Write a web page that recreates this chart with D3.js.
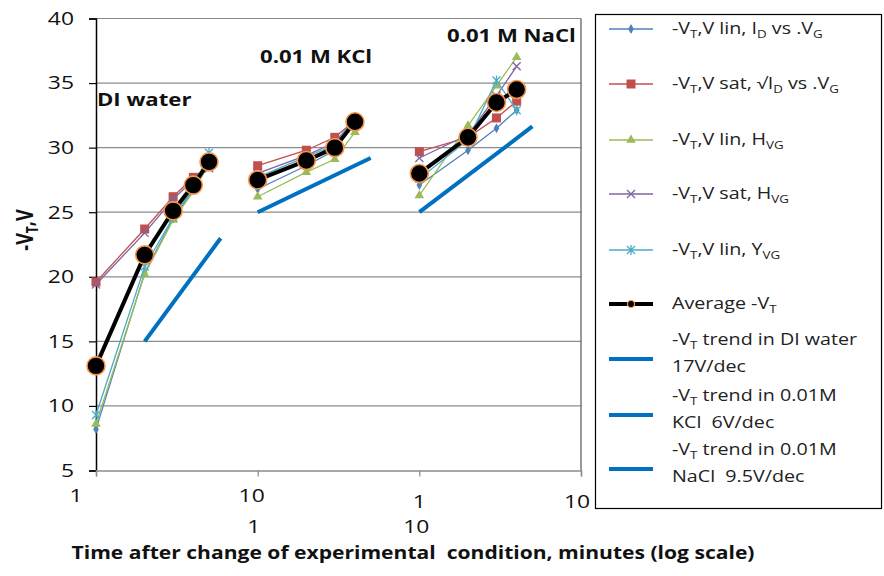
<!DOCTYPE html>
<html>
<head>
<meta charset="utf-8">
<script src="https://cdn.jsdelivr.net/npm/d3@7"></script>
<style>
  html, body { margin: 0; padding: 0; background: #fff; }
  svg { display: block; font-family: "Open Sans", sans-serif; }
</style>
</head>
<body>
<svg id="chart" width="884" height="576"></svg>
<script>
// Three experimental conditions, each on its own log-time decade
const panels = ["DI water", "0.01 M KCl", "0.01 M NaCl"];
const panelTimes = [[1, 2, 3, 4, 5], [1, 2, 3, 4], [1, 2, 3, 4]];

// -VT (V) per extraction method, one inner array per condition
const linID   = [[8.2, 20.3, 24.5, 26.7, 28.7], [26.8, 28.6, 29.8, 32.0], [27.1, 29.8, 31.5, 32.9]];
const satSqID = [[19.6, 23.7, 26.2, 27.7, 28.6], [28.6, 29.8, 30.8, 32.1], [29.7, 30.8, 32.3, 33.6]];
const linHVG  = [[8.6, 20.2, 24.4, 26.6, 28.8], [26.2, 28.1, 29.1, 31.2], [26.3, 31.7, 34.8, 37.0]];
const satHVG  = [[19.4, 23.4, 26.0, 27.5, 28.4], [28.0, 29.4, 30.4, 32.2], [29.2, 31.0, 34.0, 36.3]];
const linYVG  = [[9.3, 20.8, 24.6, 26.9, 29.6], [27.7, 29.3, 30.2, 32.3], [27.6, 30.6, 35.2, 32.9]];
const average = [[13.1, 21.7, 25.1, 27.1, 28.9], [27.5, 29.0, 30.0, 32.0], [28.0, 30.8, 33.5, 34.5]];

// Trend lines: start time, start value, end time, slope in V/decade
const trendStart = [2, 1, 1];
const trendStartV = [15, 25, 25];
const trendEnd = [5.9, 5, 5];
const trendSlope = [17, 6, 9.5];

// Axis ticks
const yTicks = [5, 10, 15, 20, 25, 30, 35, 40];
const xTickLabelsRow1 = ["1", "10", "1", "10"];
const xTickLabelsRow2 = ["", "1", "10", ""];

const svg = d3.select("#chart");
const plot = { left: 96, right: 581, top: 18.5, bottom: 470.5 };
const WIDE = 1.27; // horizontal widening applied to all lettering

// The three decades sit side by side on one log axis (1..1000)
const decade = [1, 10, 100];
const x = d3.scaleLog().domain([1, 1000]).range([plot.left, plot.right]);
const y = d3.scaleLinear().domain([5, 40]).range([plot.bottom, plot.top]);
const px = (p, t) => x(t * decade[p]);

// Text placed at an anchor and widened horizontally
function wideText(parent, ax, ay, sx = WIDE) {
  return parent.append("g").attr("transform", `translate(${ax},${ay}) scale(${sx},1)`)
    .append("text").attr("x", 0).attr("y", 0);
}

// Gridlines
svg.append("g").selectAll("line").data(yTicks.filter(v => v > 5)).join("line")
  .attr("x1", plot.left).attr("x2", plot.right)
  .attr("y1", d => y(d)).attr("y2", d => y(d))
  .attr("stroke", "#8c8c8c").attr("stroke-width", 1.2);

// Right border of plot area
svg.append("line").attr("x1", plot.right).attr("x2", plot.right)
  .attr("y1", plot.top).attr("y2", plot.bottom)
  .attr("stroke", "#555").attr("stroke-width", 1.2);

// Y axis
const yAxis = d3.axisLeft(y).tickValues(yTicks).tickSize(7).tickFormat("");
const gy = svg.append("g").attr("transform", `translate(${plot.left},0)`).call(yAxis);
gy.select(".domain").attr("stroke", "#000").attr("stroke-width", 1.5);
gy.selectAll(".tick line").attr("stroke", "#000").attr("stroke-width", 1.2);
const gyl = svg.append("g");
yTicks.forEach(v => {
  wideText(gyl, 74, y(v)).attr("dy", "0.35em").attr("text-anchor", "end")
    .attr("font-size", 18).attr("fill", "#111").text(v);
});

// X axis (ticks only; labels placed as two rows)
const xAxis = d3.axisBottom(x).tickValues([1, 10, 100, 1000]).tickSize(6).tickFormat("");
const gx = svg.append("g").attr("transform", `translate(0,${plot.bottom})`).call(xAxis);
gx.select(".domain").attr("stroke", "#8c8c8c").attr("stroke-width", 1.5);
gx.selectAll(".tick line").attr("stroke", "#8c8c8c").attr("stroke-width", 1.2);

const tickVals = [1, 10, 100, 1000];
const row1dx = [-20, -6, 0, -4];
const row1dy = [496, 496, 502, 502];
const gxl = svg.append("g");
xTickLabelsRow1.forEach((d, i) => {
  wideText(gxl, x(tickVals[i]) + row1dx[i], row1dy[i]).attr("dy", "0.35em")
    .attr("text-anchor", "middle").attr("font-size", 18).attr("fill", "#111").text(d);
});
xTickLabelsRow2.forEach((d, i) => {
  if (!d) return;
  wideText(gxl, x(tickVals[i]) - 5 + i, 527).attr("dy", "0.35em")
    .attr("text-anchor", "middle").attr("font-size", 18).attr("fill", "#111").text(d);
});

// Axis titles
const yTitle = svg.append("g").attr("transform", `translate(33,230) scale(${WIDE},1) rotate(-90)`)
  .append("text").attr("text-anchor", "middle").attr("font-size", 18)
  .attr("font-weight", "bold").attr("fill", "#111");
yTitle.append("tspan").text("-V");
yTitle.append("tspan").attr("font-size", 12).attr("dy", 4).text("T");
yTitle.append("tspan").attr("dy", -4).text(",V");

wideText(svg, 413, 553, 1.205).attr("dy", "0.35em")
  .attr("text-anchor", "middle").attr("font-size", 17.5).attr("font-weight", "bold").attr("fill", "#111")
  .text("Time after change of experimental  condition, minutes (log scale)")
  .style("white-space", "pre");

// Condition labels
const condPos = [[97, 100], [260, 57], [447, 36]];
panels.forEach((d, i) => {
  wideText(svg, condPos[i][0], condPos[i][1], 1.23).attr("dy", "0.35em")
    .attr("font-size", 18).attr("font-weight", "bold").attr("fill", "#111").text(d);
});

// Series definitions
const series = [
  { values: linID, color: "#4F81BD", marker: "diamond" },
  { values: satSqID, color: "#C0504D", marker: "square" },
  { values: linHVG, color: "#9BBB59", marker: "triangle" },
  { values: satHVG, color: "#8064A2", marker: "x" },
  { values: linYVG, color: "#4BACC6", marker: "star" }
];

function drawMarker(g, type, color, cx, cy) {
  if (type === "diamond") {
    g.append("path").attr("d", d3.symbol(d3.symbolDiamond, 28)())
      .attr("transform", `translate(${cx},${cy})`).attr("fill", color);
  } else if (type === "square") {
    g.append("rect").attr("x", cx - 4.5).attr("y", cy - 4.5).attr("width", 9).attr("height", 9)
      .attr("fill", color);
  } else if (type === "triangle") {
    g.append("path").attr("d", d3.symbol(d3.symbolTriangle, 40)())
      .attr("transform", `translate(${cx},${cy})`).attr("fill", color);
  } else if (type === "x") {
    g.append("path").attr("d", `M${cx - 4},${cy - 4}L${cx + 4},${cy + 4}M${cx - 4},${cy + 4}L${cx + 4},${cy - 4}`)
      .attr("stroke", color).attr("stroke-width", 1.3).attr("fill", "none");
  } else if (type === "star") {
    g.append("path").attr("d", `M${cx - 4},${cy - 4}L${cx + 4},${cy + 4}M${cx - 4},${cy + 4}L${cx + 4},${cy - 4}M${cx},${cy - 5}L${cx},${cy + 5}`)
      .attr("stroke", color).attr("stroke-width", 1.3).attr("fill", "none");
  }
}

const line = d3.line().x(d => d[0]).y(d => d[1]);

series.forEach(s => {
  const g = svg.append("g");
  s.values.forEach((vals, p) => {
    const pts = vals.map((v, i) => [px(p, panelTimes[p][i]), y(v)]);
    g.append("path").attr("d", line(pts)).attr("fill", "none")
      .attr("stroke", s.color).attr("stroke-width", 1.3);
    pts.forEach(pt => drawMarker(g, s.marker, s.color, pt[0], pt[1]));
  });
});

// Trend lines
const trendColor = "#0070C0";
const gt = svg.append("g");
trendStart.forEach((t0, p) => {
  const t1 = trendEnd[p];
  const v0 = trendStartV[p];
  const v1 = v0 + trendSlope[p] * Math.log10(t1 / t0);
  gt.append("line")
    .attr("x1", px(p, t0)).attr("y1", y(v0))
    .attr("x2", px(p, t1)).attr("y2", y(v1))
    .attr("stroke", trendColor).attr("stroke-width", 4);
});

// Average
const ga = svg.append("g");
average.forEach((vals, p) => {
  const pts = vals.map((v, i) => [px(p, panelTimes[p][i]), y(v)]);
  ga.append("path").attr("d", line(pts)).attr("fill", "none")
    .attr("stroke", "#000").attr("stroke-width", 4);
  ga.selectAll(null).data(pts).join("circle")
    .attr("cx", d => d[0]).attr("cy", d => d[1]).attr("r", 9)
    .attr("fill", "#000").attr("stroke", "#F79646").attr("stroke-width", 1.6);
});

// Legend
const lg = svg.append("g");
lg.append("rect").attr("x", 595.5).attr("y", 14.5).attr("width", 286).attr("height", 494)
  .attr("fill", "#fff").attr("stroke", "#000").attr("stroke-width", 1.2);

const legendY = [29, 84, 140, 194, 250];
const legendTexts = [
  [["-V", 0], ["T", 1], [",V lin, I", 0], ["D", 1], [" vs .V", 0], ["G", 1]],
  [["-V", 0], ["T", 1], [",V sat, \u221AI", 0], ["D", 1], [" vs .V", 0], ["G", 1]],
  [["-V", 0], ["T", 1], [",V lin, H", 0], ["VG", 1]],
  [["-V", 0], ["T", 1], [",V sat, H", 0], ["VG", 1]],
  [["-V", 0], ["T", 1], [",V lin, Y", 0], ["VG", 1]]
];

function richText(g, xPos, yPos, parts) {
  const t = wideText(g, xPos, yPos).attr("dy", "0.35em")
    .attr("font-size", 15.5).attr("fill", "#222").style("white-space", "pre");
  let sub = 0;
  parts.forEach(([s, isSub]) => {
    const ts = t.append("tspan").text(s);
    if (isSub && !sub) { ts.attr("font-size", 10.5).attr("dy", 4); sub = 1; }
    else if (!isSub && sub) { ts.attr("dy", -4); sub = 0; }
    else if (isSub) { ts.attr("font-size", 10.5); }
  });
  return t;
}

series.forEach((s, i) => {
  const ly = legendY[i];
  lg.append("line").attr("x1", 609).attr("x2", 653).attr("y1", ly).attr("y2", ly)
    .attr("stroke", s.color).attr("stroke-width", 1.3);
  drawMarker(lg, s.marker, s.color, 631, ly);
  richText(lg, 672, ly, legendTexts[i]);
});

// Average legend entry
lg.append("line").attr("x1", 609).attr("x2", 653).attr("y1", 304).attr("y2", 304)
  .attr("stroke", "#000").attr("stroke-width", 4);
lg.append("circle").attr("cx", 631).attr("cy", 304).attr("r", 3.5)
  .attr("fill", "#000").attr("stroke", "#F79646").attr("stroke-width", 1.2);
richText(lg, 672, 304, [["Average -V", 0], ["T", 1]]);

// Trend legend entries
const trendLegendY = [359, 415, 469];
const trendLines2 = ["17V/dec", "KCl  6V/dec", "NaCl  9.5V/dec"];
const trendLines1 = [" trend in DI water", " trend in 0.01M", " trend in 0.01M"];
trendLegendY.forEach((ly, i) => {
  lg.append("line").attr("x1", 609).attr("x2", 653).attr("y1", ly).attr("y2", ly)
    .attr("stroke", trendColor).attr("stroke-width", 4);
  richText(lg, 672, ly - 19, [["-V", 0], ["T", 1], [trendLines1[i], 0]]);
  richText(lg, 672, ly + 8, [[trendLines2[i], 0]]);
});
</script>
</body>
</html>
